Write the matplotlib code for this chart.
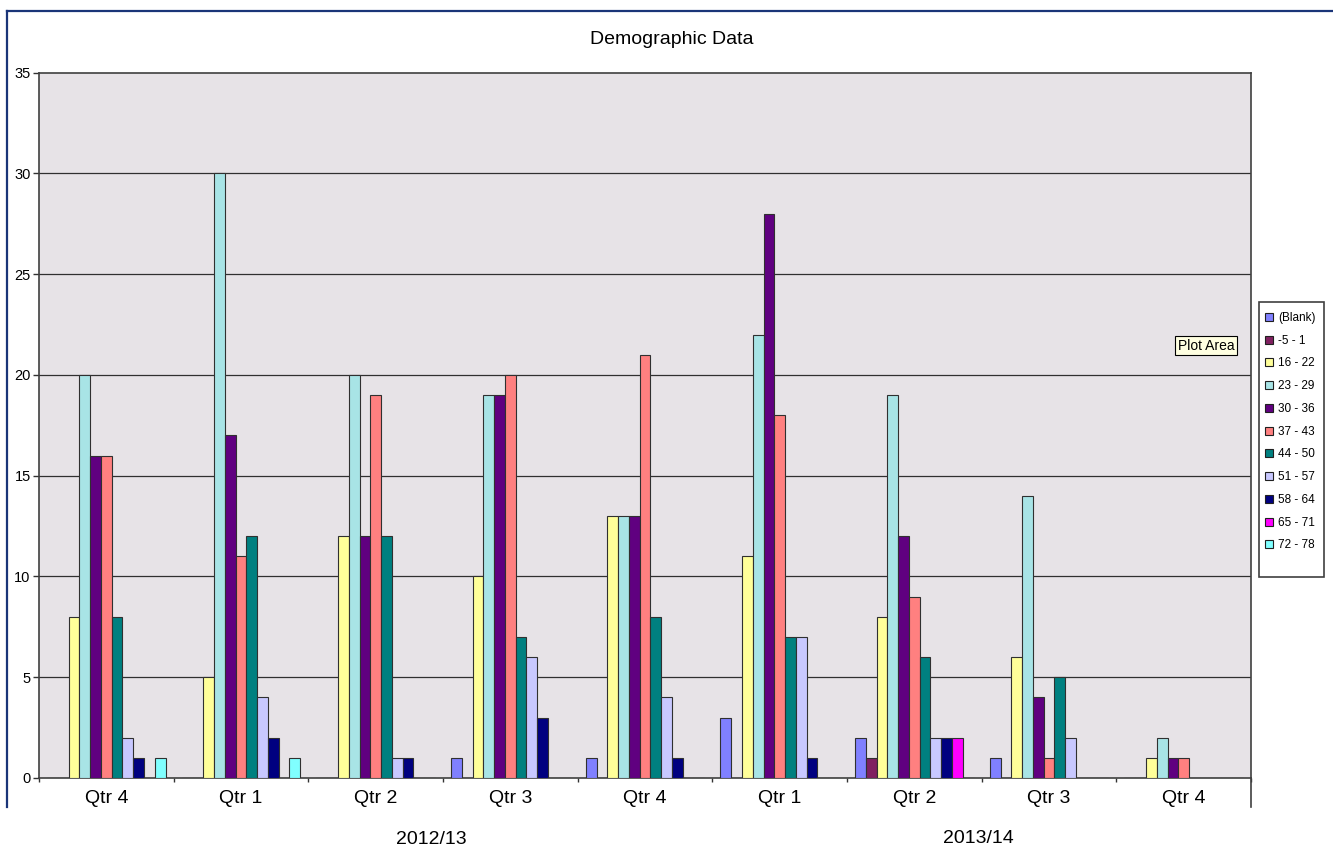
import numpy as np
import matplotlib
matplotlib.use("Agg")
import matplotlib.pyplot as plt
from matplotlib.lines import Line2D
from matplotlib.patches import Rectangle

plt.rcParams["font.family"] = ["Liberation Sans", "DejaVu Sans"]

# quarters along the category axis
quarters = ["Qtr 4", "Qtr 1", "Qtr 2", "Qtr 3", "Qtr 4", "Qtr 1", "Qtr 2", "Qtr 3", "Qtr 4"]
years = ["2012/13", "2013/14"]

age_bands = ["(Blank)", "-5 - 1", "16 - 22", "23 - 29", "30 - 36", "37 - 43",
             "44 - 50", "51 - 57", "58 - 64", "65 - 71", "72 - 78"]
band_colors = ["#8080FF", "#802060", "#FFFF99", "#A8E4E6", "#600080", "#FF8080",
               "#008080", "#C8C8FF", "#000080", "#FF00FF", "#80FFFF"]

# counts per age band, one value per quarter
blank   = [0, 0, 0, 1, 1, 3, 2, 1, 0]
b_5_1   = [0, 0, 0, 0, 0, 0, 1, 0, 0]
b16_22  = [8, 5, 12, 10, 13, 11, 8, 6, 1]
b23_29  = [20, 30, 20, 19, 13, 22, 19, 14, 2]
b30_36  = [16, 17, 12, 19, 13, 28, 12, 4, 1]
b37_43  = [16, 11, 19, 20, 21, 18, 9, 1, 1]
b44_50  = [8, 12, 12, 7, 8, 7, 6, 5, 0]
b51_57  = [2, 4, 1, 6, 4, 7, 2, 2, 0]
b58_64  = [1, 2, 1, 3, 1, 1, 2, 0, 0]
b65_71  = [0, 0, 0, 0, 0, 0, 2, 0, 0]
b72_78  = [1, 1, 0, 0, 0, 0, 0, 0, 0]

series = [blank, b_5_1, b16_22, b23_29, b30_36, b37_43, b44_50, b51_57, b58_64, b65_71, b72_78]

W, H = 1333, 850
fig = plt.figure(figsize=(W / 100, H / 100), dpi=100)
ax = fig.add_axes([0.02926, 0.08471, 0.90923, 0.82976])
ax.set_facecolor("#E7E3E7")

n = len(series)
w = 1.0 / (n + 1.5)   # gap width 150%
centers = np.arange(len(quarters)) + 0.5
for j, (vals, col, lab) in enumerate(zip(series, band_colors, age_bands)):
    xs = centers + (j - (n - 1) / 2) * w
    ax.bar(xs, vals, width=w, color=col, edgecolor="#303030", linewidth=0.8, label=lab, zorder=3)

ax.set_xlim(0, len(quarters))
ax.set_ylim(0, 35)

ax.set_yticks(range(0, 36, 5))
ax.tick_params(axis="y", length=4, width=1, labelsize=10.5, pad=2, color="#333333")
for y in range(5, 35, 5):
    ax.axhline(y, color="#303030", linewidth=0.9, zorder=1)

ax.set_xticks(range(0, len(quarters) + 1))
ax.set_xticklabels([])
ax.set_xticks(centers, minor=True)
ax.set_xticklabels(quarters, minor=True, fontsize=14)
ax.tick_params(axis="x", which="major", length=3, width=1, color="#333333")
ax.tick_params(axis="x", which="minor", length=0, pad=9)

for side in ["left", "bottom", "top", "right"]:
    ax.spines[side].set_color("#404040")
    ax.spines[side].set_linewidth(1.2)

# right boundary of the category axis runs down past the labels
ax.plot([1, 1], [0, -0.041], transform=ax.transAxes, color="#404040",
        linewidth=1.2, clip_on=False)

fig.text(0.504, 0.953, "Demographic Data", ha="center", va="center", fontsize=14)
fig.text(0.3233, 0.0118, years[0], ha="center", va="center", fontsize=14)
fig.text(0.7337, 0.0141, years[1], ha="center", va="center", fontsize=14)

# legend: entries without frame, box drawn separately
handles = [Line2D([], [], marker="s", linestyle="none", markersize=6,
                  markerfacecolor=c, markeredgecolor="#202020", markeredgewidth=0.8)
           for c in band_colors]
fig.legend(handles, age_bands, loc="upper left",
           bbox_to_anchor=(1264 / W, 1 - 312 / H),
           fontsize=8.5, frameon=False, handlelength=0.8, handletextpad=0.4,
           labelspacing=0.91, borderpad=0, borderaxespad=0)
fig.add_artist(Rectangle((1259 / W, 1 - 577 / H), 65 / W, 275 / H,
                         transform=fig.transFigure, facecolor="none",
                         edgecolor="#404040", linewidth=1.2))

fig.text(1178 / W, 1 - 345.5 / H, "Plot Area", ha="left", va="center", fontsize=10,
         bbox=dict(boxstyle="square,pad=0.2", facecolor="#FFFFE1", edgecolor="black", linewidth=0.8))

# outer chart border
border = "#1A3578"
fig.add_artist(Line2D([7 / W, 7 / W], [1 - 11 / H, 1 - 807 / H],
                      transform=fig.transFigure, color=border, linewidth=1.6))
fig.add_artist(Line2D([7 / W, 1.0], [1 - 11 / H, 1 - 11 / H],
                      transform=fig.transFigure, color=border, linewidth=1.6))

fig.savefig("out.png", dpi=100, facecolor="white")
